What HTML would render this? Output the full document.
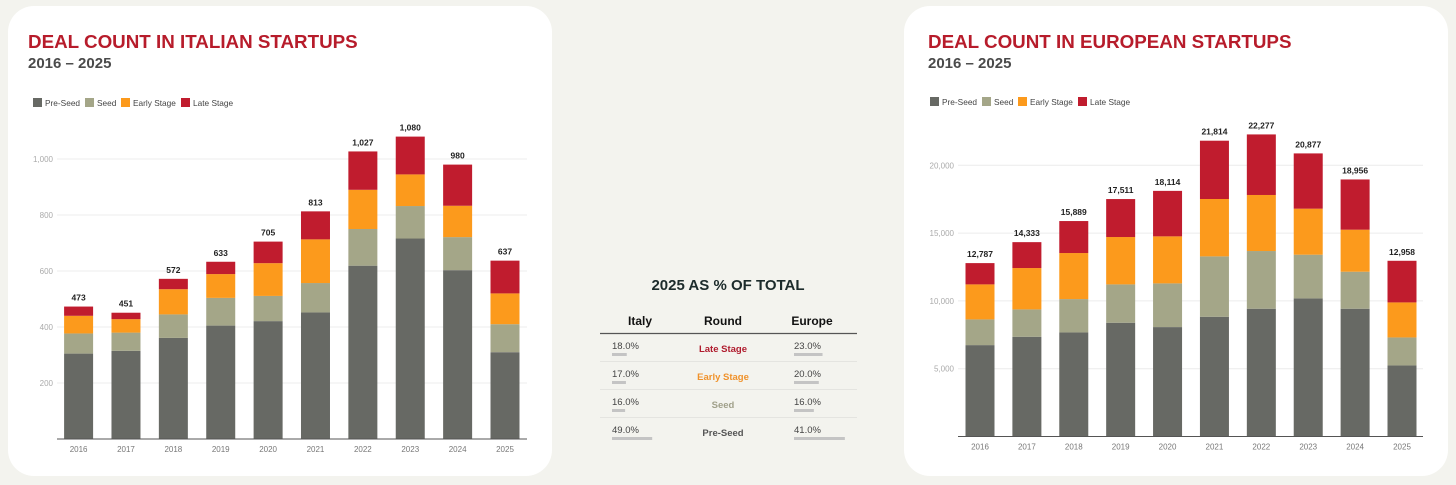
<!DOCTYPE html>
<html><head><meta charset="utf-8">
<style>
html,body{margin:0;padding:0;background:#f3f3ee;width:1456px;height:485px;overflow:hidden;font-family:"Liberation Sans",sans-serif;}
svg text{font-family:"Liberation Sans",sans-serif;}
</style></head>
<body>
<svg id="s" width="1456" height="485" viewBox="0 0 1456 485" xmlns="http://www.w3.org/2000/svg">
<rect x="8" y="6" width="544" height="470" rx="26" fill="#ffffff"/>
<rect x="904" y="6" width="544" height="470" rx="26" fill="#ffffff"/>
<text x="28" y="48" font-size="18.8" font-weight="bold" fill="#b71c2b">DEAL COUNT IN ITALIAN STARTUPS</text>
<text x="28" y="68" font-size="15" font-weight="bold" fill="#4a4a4a">2016 – 2025</text>
<text x="928" y="48" font-size="18.8" font-weight="bold" fill="#b71c2b">DEAL COUNT IN EUROPEAN STARTUPS</text>
<text x="928" y="68" font-size="15" font-weight="bold" fill="#4a4a4a">2016 – 2025</text>
<g id="it"></g>
<g id="eu"></g>
<g id="tbl">
<text x="728" y="290" font-size="15" font-weight="bold" fill="#1c2b2b" text-anchor="middle">2025 AS % OF TOTAL</text>
<text x="640" y="325" font-size="12" font-weight="bold" fill="#111" text-anchor="middle">Italy</text>
<text x="723" y="325" font-size="12" font-weight="bold" fill="#111" text-anchor="middle">Round</text>
<text x="812" y="325" font-size="12" font-weight="bold" fill="#111" text-anchor="middle">Europe</text>
<line x1="600" y1="333.5" x2="857" y2="333.5" stroke="#555" stroke-width="1.2"/>
</g>
</svg>
<script>
const years=["2016","2017","2018","2019","2020","2021","2022","2023","2024","2025"];
const itPre=[305,315,361,405,421,452,619,716,603,310];
const itSeed=[72,65,84,99,90,105,131,116,118,100];
const itEarly=[63,48,90,85,117,156,140,113,112,110];
const itLate=[33,23,37,44,77,100,137,135,147,117];
const itTotals=["473","451","572","633","705","813","1,027","1,080","980","637"];
const itTicks=[200,400,600,800,1000];
const itTickLabels=["200","400","600","800","1,000"];
const euPre=[6740,7355,7675,8389,8069,8831,9422,10185,9422,5240];
const euSeed=[1895,2018,2460,2829,3223,4453,4256,3222,2731,2066];
const euEarly=[2583,3050,3395,3493,3468,4231,4133,3395,3099,2583];
const euLate=[1569,1910,2359,2800,3354,4299,4466,4075,3704,3069];
const euTotals=["12,787","14,333","15,889","17,511","18,114","21,814","22,277","20,877","18,956","12,958"];
const euTicks=[5000,10000,15000,20000];
const euTickLabels=["5,000","10,000","15,000","20,000"];
const seriesNames=["Pre-Seed","Seed","Early Stage","Late Stage"];
const colors=["#676964","#a4a688","#fc9a1c","#c01c2e"];
const rounds=["Late Stage","Early Stage","Seed","Pre-Seed"];
const italyPct=[18,17,16,49];
const europePct=[23,20,16,41];
const NS="http://www.w3.org/2000/svg";
function mk(p,t,a){const e=document.createElementNS(NS,t);for(const k in a)e.setAttribute(k,a[k]);p.appendChild(e);return e;}
function chart(g,cfg,series,totals,ticks,tickLabels){
  const y=v=>cfg.base-(v/cfg.max)*(cfg.base-cfg.top);
  const step=(cfg.c1-cfg.c0)/(years.length-1);
  const x=i=>cfg.c0+i*step;
  ticks.forEach((t,i)=>{
    const l=mk(g,"line",{x1:cfg.left,x2:cfg.right,y1:y(t),y2:y(t),stroke:"#ececec","stroke-width":1});
    
    
    const tx=mk(g,"text",{x:cfg.left-4,y:y(t)+3,"font-size":8,fill:"#aaa","text-anchor":"end"});
    tx.textContent=tickLabels[i];
    
    
  });
  seriesNames.forEach((n,i)=>{
    const lx=cfg.legX[i];
    const r=mk(g,"rect",{x:lx,y:cfg.legY,width:9,height:9,fill:colors[i]});
    
    
    const t=mk(g,"text",{x:lx+12,y:cfg.legY+8,"font-size":8.3,fill:"#444"});
    t.textContent=n;
    
    
  });
  years.forEach((yr,i)=>{
    let acc=0;
    series.forEach((s,k)=>{
      const v=s[i];
      const r=mk(g,"rect",{x:x(i)-cfg.bw/2,y:y(acc+v),width:cfg.bw,height:y(acc)-y(acc+v),fill:colors[k]});
      
      
      acc+=v;
    });
    const tl=mk(g,"text",{x:x(i),y:y(acc)-6,"font-size":8.5,"font-weight":"bold",fill:"#222","text-anchor":"middle"});
    tl.textContent=totals[i];
    
    
    const xl=mk(g,"text",{x:x(i),y:cfg.base+13,"font-size":8,fill:"#777","text-anchor":"middle"});
    xl.textContent=yr;
    
    
  });
  const ax=mk(g,"line",{x1:cfg.left,x2:cfg.right,y1:cfg.base,y2:cfg.base,stroke:"#555","stroke-width":1});
  
  
}
chart(document.getElementById("it"),{base:439,top:159,max:1000,left:57,right:527,c0:78.6,c1:505,bw:29,legX:[33,85,121,181],legY:98},[itPre,itSeed,itEarly,itLate],itTotals,itTicks,itTickLabels);
chart(document.getElementById("eu"),{base:436.5,top:165.3,max:20000,left:958,right:1423,c0:980,c1:1402,bw:29,legX:[930,982,1018,1078],legY:97},[euPre,euSeed,euEarly,euLate],euTotals,euTicks,euTickLabels);
const tg=document.getElementById("tbl");
const roundColors=["#b01c2e","#f0922b","#a0a08a","#555555"];
rounds.forEach((r,i)=>{
  const ry=333+i*28;
  const a=mk(tg,"text",{x:612,y:ry+16,"font-size":9.5,fill:"#444"});
  a.textContent=italyPct[i].toFixed(1)+"%";
  
  
  const ab=mk(tg,"rect",{x:612,y:ry+20,width:italyPct[i]*0.82,height:3,fill:"#c4c4c4"});
  
  
  const m=mk(tg,"text",{x:723,y:ry+19,"font-size":9.5,"font-weight":"bold",fill:roundColors[i],"text-anchor":"middle"});
  m.textContent=r;
  
  
  const b=mk(tg,"text",{x:794,y:ry+16,"font-size":9.5,fill:"#444"});
  b.textContent=europePct[i].toFixed(1)+"%";
  
  
  const bb=mk(tg,"rect",{x:794,y:ry+20,width:europePct[i]*1.24,height:3,fill:"#c4c4c4"});
  
  
  if(i<3){
    const l=mk(tg,"line",{x1:600,x2:857,y1:ry+28.5,y2:ry+28.5,stroke:"#e4e4e0","stroke-width":1});
    
    
  }
});
</script>
</body></html>
